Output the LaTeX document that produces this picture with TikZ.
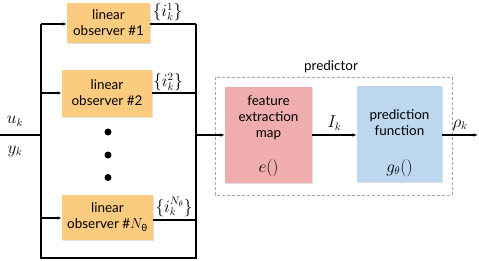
\documentclass[tikz,border=0pt]{standalone}
\usepackage{fontspec}
\setmainfont{Lato}
\usetikzlibrary{arrows.meta,shadows}
\definecolor{obsfill}{HTML}{FBCB7F}
\definecolor{featfill}{HTML}{F0ADAE}
\definecolor{predfill}{HTML}{BDD7EE}
\begin{document}
\begin{tikzpicture}[x=1bp,y=-1bp,
  every node/.style={font=\fontsize{13.5}{16}\selectfont},
  mathlbl/.style={inner sep=0pt,font=\fontsize{16}{16}\selectfont},
  obsbox/.style={fill=obsfill,align=center,inner sep=0pt,drop shadow={shadow xshift=1.2bp,shadow yshift=-1.2bp,opacity=0.25}},
  procbox/.style={align=center,inner sep=0pt,minimum width=87bp,minimum height=96bp,drop shadow={shadow xshift=1.2bp,shadow yshift=-1.2bp,opacity=0.25}},
  wire/.style={line width=1.1bp},
  arr/.style={wire,-{Latex[length=4.5bp,width=3.5bp]}},
  lbl/.style={inner sep=0pt}
]
\useasboundingbox (0,0) rectangle (479,260);
% observers
\node[obsbox,minimum width=83bp,minimum height=40bp] (o1) at (108.5,22.5) {linear\\observer \#1};
\node[obsbox,minimum width=90bp,minimum height=47bp] (o2) at (107,93) {linear\\observer \#2};
\node[obsbox,minimum width=91bp,minimum height=45bp] (oN) at (107.5,217) {linear\\observer \#$N_{\mbox{\fontsize{10}{10}\selectfont θ}}$};
% dots
\fill (108,132) circle (3.5bp);
\fill (108,155) circle (3.5bp);
\fill (108,177.5) circle (3.5bp);
% buses
\coordinate (in) at (0,135);
\coordinate (lm) at (41,135);
\coordinate (l1) at (41,24);
\coordinate (l2) at (41,93);
\coordinate (lN) at (41,218);
\coordinate (lb) at (41,258);
\coordinate (r1) at (196,24);
\coordinate (r2) at (196,93);
\coordinate (rN) at (196,220);
\coordinate (rb) at (196,258);
\coordinate (rm) at (196,135);
\draw[wire] (in) -- (lm);
\draw[wire] (l1) -- (lb) -- (rb) -- (r1);
\draw[arr] (l1) -- (o1.west |- l1);
\draw[arr] (l2) -- (o2.west |- l2);
\draw[arr] (lN) -- (oN.west |- lN);
\draw[wire] (o1.east |- r1) -- (r1);
\draw[wire] (o2.east |- r2) -- (r2);
\draw[wire] (oN.east |- rN) -- (rN);
\node[mathlbl] at (15,121) {$u_k$};
\node[mathlbl] at (15,151) {$y_k$};
\node[mathlbl] at (167.5,12) {$\{i_k^1\}$};
\node[mathlbl] at (168,82) {$\{i_k^2\}$};
\node[mathlbl] at (174,207) {$\{i_k^{N_\theta}\}$};
% predictor
\draw[gray!70,line width=0.8bp,dash pattern=on 3bp off 2bp] (215,77) rectangle (452,195);
\node[lbl] at (331,67) {predictor};
\node[procbox,fill=featfill] (fe) at (268.5,135) {};
\node[procbox,fill=predfill,minimum width=85bp] (pf) at (399.5,134) {};
\node[lbl,align=center] at (268.5,118) {feature\\extraction\\map};
\node[mathlbl] at (268.5,168) {$e()$};
\node[lbl,align=center] at (399.5,123) {prediction\\function};
\node[mathlbl] at (399.5,168) {$g_\theta()$};
\draw[arr] (rm) -- (fe.west |- rm);
\draw[arr] (fe.east |- rm) -- (pf.west |- rm) node[mathlbl,midway,above=4bp] {$I_k$};
\coordinate (out) at (478,135);
\draw[arr] (pf.east |- rm) -- (out) node[mathlbl,midway,above=4bp] {$\rho_k$};
\end{tikzpicture}
\end{document}
